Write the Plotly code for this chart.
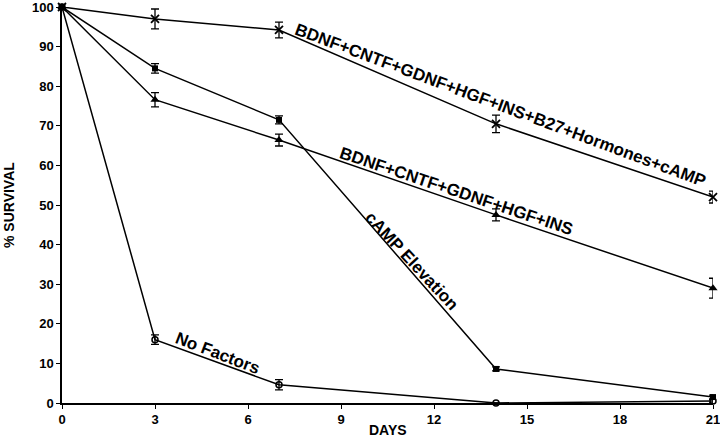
import plotly.graph_objects as go

days = [0, 3, 7, 14, 21]

full_cocktail = [100, 97, 94.2, 70.5, 52]
full_cocktail_err = [0, 2.5, 2, 2.2, 1.5]

camp_elev = [100, 84.5, 71.5, 8.6, 1.5]
camp_elev_err = [0, 1.2, 1, 0.5, 0.5]

five_factors = [100, 76.6, 66.4, 47.5, 29]
five_factors_err = [0, 1.8, 1.5, 1.5, 2.5]

no_factors = [100, 16, 4.6, 0, 0.5]
no_factors_err = [0, 1.2, 1.3, 0, 0.5]

x_ticks = [0, 3, 6, 9, 12, 15, 18, 21]
y_ticks = [0, 10, 20, 30, 40, 50, 60, 70, 80, 90, 100]

labels = [
    "BDNF+CNTF+GDNF+HGF+INS+B27+Hormones+cAMP",
    "BDNF+CNTF+GDNF+HGF+INS",
    "cAMP Elevation",
    "No Factors",
]

FONT = "Liberation Sans, Arial, Helvetica, sans-serif"

fig = go.Figure()

def add_series(y, err, symbol, size, mline=0):
    fig.add_trace(go.Scatter(
        x=days, y=y, mode="lines+markers",
        line=dict(color="black", width=1.5),
        marker=dict(symbol=symbol, size=size, color="black",
                    line=dict(color="black", width=mline)),
        error_y=dict(type="data", array=err, visible=True,
                     color="black", thickness=1.3, width=4),
        cliponaxis=False, showlegend=False,
    ))

add_series(no_factors, no_factors_err, "circle-open", 6, 1.5)
add_series(five_factors, five_factors_err, "triangle-up", 8)
add_series(camp_elev, camp_elev_err, "square", 6)
add_series(full_cocktail, full_cocktail_err, "x-thin", 8, 1.8)

ann_font = dict(family=FONT, size=17, color="black", weight="bold")
ann = [
    (labels[0], 14.16, 75.2, 20.5),
    (labels[1], 12.74, 53.4, 18.5),
    (labels[2], 11.26, 35.9, 47),
    (labels[3], 5.03, 12.4, 21),
]
for t, x, y, a in ann:
    fig.add_annotation(text=t, x=x, y=y, xref="x", yref="y",
                       showarrow=False, textangle=a, font=ann_font,
                       xanchor="center", yanchor="middle")

# axis titles
title_font = dict(family=FONT, size=14, color="black", weight="bold")
fig.add_annotation(text="DAYS", x=0.5, y=0, xref="paper", yref="paper",
                   xanchor="center", yanchor="middle", yshift=-27,
                   showarrow=False, font=title_font)
fig.add_annotation(text="% SURVIVAL", x=0, y=0.5, xref="paper", yref="paper",
                   xanchor="center", yanchor="middle", xshift=-53,
                   textangle=-90, showarrow=False, font=title_font)

fig.update_layout(
    width=720, height=440,
    margin=dict(l=62, r=7, t=7, b=37, autoexpand=False),
    paper_bgcolor="white", plot_bgcolor="white",
    font=dict(family=FONT, color="black"),
)
fig.update_xaxes(
    range=[-0.0001, 21.0001], tickvals=x_ticks,
    ticktext=[str(v) for v in x_ticks], automargin=False,
    ticklabeloverflow="allow",
    showgrid=False, zeroline=False, showline=True, linecolor="black",
    linewidth=1.5, ticks="outside", ticklen=4, tickwidth=1.2,
    tickcolor="black",
    tickfont=dict(family=FONT, size=13, color="black", weight="bold"),
)
fig.update_yaxes(
    range=[-0.001, 100.001], tickvals=y_ticks,
    ticktext=[str(v) for v in y_ticks], automargin=False,
    ticklabeloverflow="allow",
    showgrid=False, zeroline=False, showline=True, linecolor="black",
    linewidth=1.5, ticks="outside", ticklen=4, tickwidth=1.2,
    tickcolor="black",
    tickfont=dict(family=FONT, size=13, color="black", weight="bold"),
)

fig.write_html(
    "out.html",
    config={"displayModeBar": False},
    post_script="document.body.style.margin='0';document.body.style.overflow='hidden';",
)
